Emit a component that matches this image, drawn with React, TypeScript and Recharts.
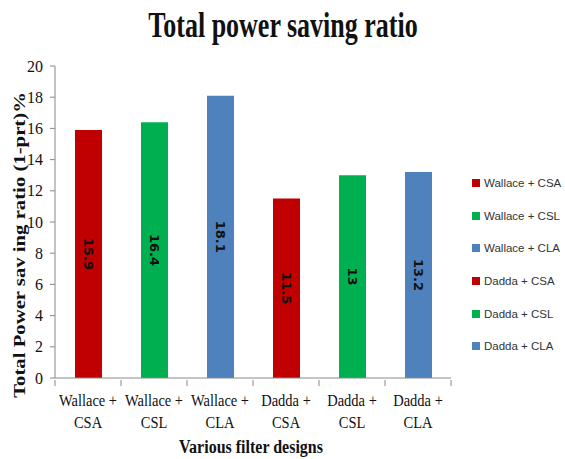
import React from 'react';
import { BarChart, Bar, XAxis, YAxis, Cell, LabelList } from 'recharts';

const categories = ['Wallace + CSA', 'Wallace + CSL', 'Wallace + CLA', 'Dadda + CSA', 'Dadda + CSL', 'Dadda + CLA'];
const savingRatio = [15.9, 16.4, 18.1, 11.5, 13, 13.2];
const barColors = ['#C00000', '#00B050', '#4F81BD', '#C00000', '#00B050', '#4F81BD'];
const yTicks = [0, 2, 4, 6, 8, 10, 12, 14, 16, 18, 20];

const data = categories.map((name, i) => ({ name, value: savingRatio[i], color: barColors[i] }));

const W = 565;
const H = 459;
const margin = { top: 66, right: 114, left: 0, bottom: 0 };
const yAxisWidth = 55;
const band = (W - margin.right - yAxisWidth) / categories.length;

const serif = '"Liberation Serif", "Times New Roman", serif';
const axisColor = '#888888';

// two-line category tick, with the tick marks drawn between categories
const XTick = (props: any) => {
  const { x, y, payload, index } = props;
  const [first, second] = String(payload.value).split(' + ');
  return (
    <g>
      <line x1={x - band / 2} y1={y} x2={x - band / 2} y2={y + 6} stroke={axisColor} />
      {index === categories.length - 1 && (
        <line x1={x + band / 2} y1={y} x2={x + band / 2} y2={y + 6} stroke={axisColor} />
      )}
      <g transform={`translate(${x},${y}) scale(1,1.2)`}>
        <text x={0} y={0} textAnchor="middle" fontFamily={serif} fontSize={14.5} fill="#111">
          <tspan x={0} y={21.5}>{first + ' +'}</tspan>
          <tspan x={0} y={40}>{second}</tspan>
        </text>
      </g>
    </g>
  );
};

const BarValue = (props: any) => {
  const { x, y, width, height, value } = props;
  const cx = x + width / 2;
  const cy = y + height / 2;
  return (
    <text
      x={cx}
      y={cy}
      transform={`rotate(90 ${cx} ${cy})`}
      textAnchor="middle"
      dominantBaseline="central"
      fontFamily='"DejaVu Sans", sans-serif'
      fontWeight="bold"
      fontSize={13}
      fill="#111"
    >
      {value}
    </text>
  );
};

export default function App() {
  return (
    <div style={{ position: 'fixed', left: 0, top: 0, width: W, height: H, background: '#fff' }}>
      <BarChart width={W} height={H} data={data} margin={margin}>
        <XAxis
          dataKey="name"
          height={81}
          tick={<XTick />}
          tickSize={0}
          tickLine={false}
          interval={0}
          stroke={axisColor}
        />
        <YAxis
          domain={[0, 20]}
          ticks={yTicks}
          width={yAxisWidth}
          tickSize={5}
          tickMargin={7}
          stroke={axisColor}
          tick={{ fontFamily: serif, fontSize: 16, fill: '#111' }}
          interval={0}
        />
        <Bar dataKey="value" barSize={27} isAnimationActive={false}>
          {data.map((d, i) => (
            <Cell key={i} fill={d.color} />
          ))}
          <LabelList dataKey="value" content={<BarValue />} />
        </Bar>
      </BarChart>
      <svg width={W} height={H} style={{ position: 'absolute', left: 0, top: 0, pointerEvents: 'none' }}>
        <g transform="translate(283,37) scale(1,1.38)">
          <text x={0} y={0} textAnchor="middle" fontFamily={serif} fontWeight="bold" fontSize={26} fill="#111">
            Total power saving ratio
          </text>
        </g>
        <g transform="translate(25,245) rotate(-90) scale(1.22,1)">
          <text x={0} y={0} textAnchor="middle" fontFamily={serif} fontWeight="bold" fontSize={17} fill="#111">
            Total Power sav ing ratio (1-prt)%
          </text>
        </g>
        <g transform="translate(251,453) scale(1,1.15)">
          <text x={0} y={0} textAnchor="middle" fontFamily={serif} fontWeight="bold" fontSize={16} fill="#111">
            Various filter designs
          </text>
        </g>
      </svg>
      <div style={{ position: 'absolute', left: 472, top: 167, width: 93 }}>
        {categories.map((c, i) => (
          <div key={c} style={{ display: 'flex', alignItems: 'center', height: 32.6, whiteSpace: 'nowrap', fontFamily: '"Liberation Sans", Arial, sans-serif', fontSize: 11.5, color: '#333' }}>
            <span style={{ display: 'inline-block', width: 8, height: 8, background: barColors[i], marginRight: 4, flexShrink: 0 }} />
            {c}
          </div>
        ))}
      </div>
    </div>
  );
}
